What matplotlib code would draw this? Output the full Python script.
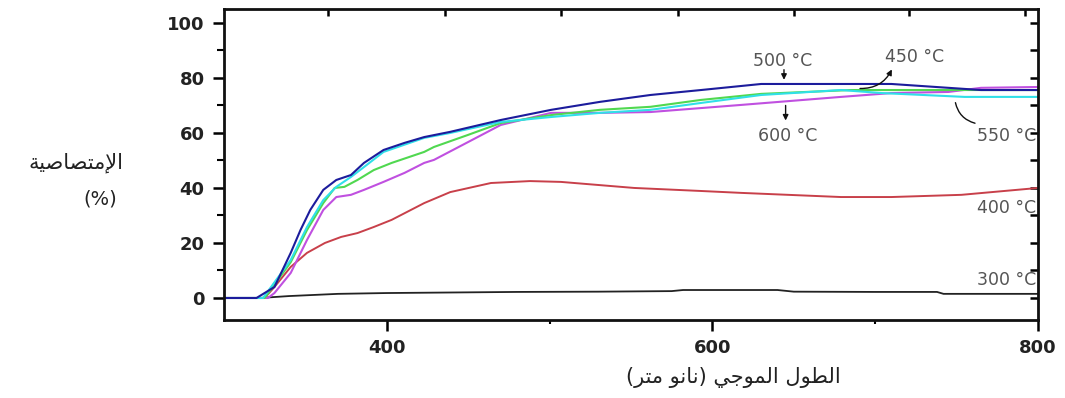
import matplotlib
matplotlib.use('Agg')
import matplotlib.pyplot as plt
from matplotlib.ticker import FixedLocator, MultipleLocator

# ---- data (wavelength nm, absorbance %) ----
wl_300 = [300, 322, 340, 370, 400, 440, 480, 530, 575, 582, 640, 650, 700, 738, 742, 800]
ab_300 = [0.0, 0.0, 0.7, 1.5, 1.8, 2.0, 2.2, 2.3, 2.5, 2.9, 2.9, 2.3, 2.2, 2.2, 1.5, 1.5]

wl_400 = [300, 325, 331, 341, 351, 362, 372, 382, 392, 403, 423, 439, 464, 488, 507, 552, 593, 618, 679, 710, 753, 800]
ab_400 = [0.0, 0.0, 4.0, 11.3, 16.4, 20.0, 22.2, 23.6, 25.8, 28.4, 34.5, 38.5, 41.8, 42.5, 42.2, 40.0, 38.9, 38.2, 36.7, 36.7, 37.5, 40.0]

wl_450 = [300, 325, 341, 351, 361, 368, 374, 382, 392, 403, 423, 429, 450, 470, 501, 531, 562, 593, 630, 685, 704, 800]
ab_450 = [0.0, 0.0, 13.0, 24.7, 34.5, 40.0, 40.4, 42.9, 46.5, 49.1, 53.1, 54.9, 59.3, 63.6, 66.5, 68.4, 69.5, 72.0, 74.2, 75.6, 75.6, 75.6]

wl_500 = [300, 320, 331, 341, 347, 353, 361, 369, 378, 386, 398, 411, 423, 439, 470, 501, 531, 562, 593, 630, 710, 765, 800]
ab_500 = [0.0, 0.0, 4.0, 16.4, 24.7, 32.0, 39.3, 42.9, 44.7, 49.1, 53.8, 56.4, 58.5, 60.4, 64.7, 68.4, 71.3, 73.8, 75.6, 77.8, 77.8, 75.6, 75.6]

wl_550 = [300, 324, 341, 351, 361, 369, 378, 386, 398, 423, 439, 470, 501, 531, 562, 593, 630, 679, 704, 755, 800]
ab_550 = [0.0, 0.0, 13.8, 25.8, 35.6, 40.4, 44.0, 47.6, 53.1, 58.2, 60.0, 64.0, 65.8, 67.3, 68.4, 70.9, 73.8, 75.6, 74.5, 73.1, 73.1]

wl_600 = [300, 327, 331, 341, 351, 361, 369, 378, 386, 398, 411, 423, 429, 450, 470, 501, 531, 562, 618, 679, 710, 745, 765, 800]
ab_600 = [0.0, 0.0, 1.8, 9.1, 21.1, 32.0, 36.7, 37.5, 39.3, 42.2, 45.5, 49.1, 50.2, 56.7, 62.9, 67.3, 67.3, 67.6, 70.2, 73.1, 74.5, 74.9, 76.4, 76.7]

x_ticks = [400, 600, 800]
x_minor = [500, 700]
y_ticks = [0, 20, 40, 60, 80, 100]
top_ticks = [364, 436, 507, 579, 650, 721, 792]

ylabel_ar = 'الإمتصاصية'
xlabel_ar = 'الطول الموجي (نانو متر)'

# Arabic letters -> (isolated, final, initial, medial) presentation forms
FORMS = {
    'ا': ('\uFE8D', '\uFE8E', None, None),
    'إ': ('\uFE87', '\uFE88', None, None),
    'ل': ('\uFEDD', '\uFEDE', '\uFEDF', '\uFEE0'),
    'م': ('\uFEE1', '\uFEE2', '\uFEE3', '\uFEE4'),
    'ت': ('\uFE95', '\uFE96', '\uFE97', '\uFE98'),
    'ص': ('\uFEB9', '\uFEBA', '\uFEBB', '\uFEBC'),
    'ي': ('\uFEF1', '\uFEF2', '\uFEF3', '\uFEF4'),
    'ة': ('\uFE93', '\uFE94', None, None),
    'ط': ('\uFEC1', '\uFEC2', '\uFEC3', '\uFEC4'),
    'و': ('\uFEED', '\uFEEE', None, None),
    'ج': ('\uFE9D', '\uFE9E', '\uFE9F', '\uFEA0'),
    'ن': ('\uFEE5', '\uFEE6', '\uFEE7', '\uFEE8'),
    'ر': ('\uFEAD', '\uFEAE', None, None),
}
LAM_ALEF = {'ا': ('\uFEFB', '\uFEFC'), 'إ': ('\uFEF9', '\uFEFA')}


def dual(c):
    return c in FORMS and FORMS[c][2] is not None


def shape(s):
    # crude arabic shaping + reversal, matplotlib has no bidi support
    out = []
    i = 0
    n = len(s)
    while i < n:
        c = s[i]
        if c not in FORMS:
            out.append(c)
            i += 1
            continue
        join_prev = i > 0 and dual(s[i - 1])
        if c == 'ل' and i + 1 < n and s[i + 1] in LAM_ALEF:
            lig = LAM_ALEF[s[i + 1]]
            out.append(lig[1] if join_prev else lig[0])
            i += 2
            continue
        join_next = dual(c) and i + 1 < n and s[i + 1] in FORMS
        iso, fin, ini, med = FORMS[c]
        if join_prev and join_next:
            out.append(med)
        elif join_prev:
            out.append(fin)
        elif join_next:
            out.append(ini)
        else:
            out.append(iso)
        i += 1
    vis = ''.join(out)[::-1]
    return vis.translate(str.maketrans('()', ')('))


plt.rcParams['font.family'] = ['DejaVu Sans']

fig = plt.figure(figsize=(10.65, 3.98), dpi=100)
ax = fig.add_axes([0.2103, 0.196, 0.7643, 0.781])

ax.plot(wl_300, ab_300, color='#222222', lw=1.3)
ax.plot(wl_400, ab_400, color='#c8404a', lw=1.4)
ax.plot(wl_600, ab_600, color='#c050e0', lw=1.5)
ax.plot(wl_450, ab_450, color='#50d850', lw=1.5)
ax.plot(wl_550, ab_550, color='#30e0e8', lw=1.5)
ax.plot(wl_500, ab_500, color='#1c1c9c', lw=1.5)

ax.set_xlim(300, 800)
ax.set_ylim(-8, 105)

for s in ax.spines.values():
    s.set_linewidth(2)
    s.set_color('#111111')

ax.xaxis.set_major_locator(FixedLocator(x_ticks))
ax.xaxis.set_minor_locator(FixedLocator(x_minor))
ax.yaxis.set_major_locator(FixedLocator(y_ticks))
ax.yaxis.set_minor_locator(MultipleLocator(10))
ax.tick_params(axis='both', which='major', direction='out', length=8, width=1.8,
               labelsize=13, pad=6, top=False, right=False)
ax.tick_params(axis='both', which='minor', direction='out', length=5, width=1.5,
               top=False, right=False)
ax.tick_params(axis='x', which='minor', length=3)
for lab in ax.get_xticklabels() + ax.get_yticklabels():
    lab.set_fontweight('bold')
    lab.set_color('#222222')

sec_top = ax.secondary_xaxis('top')
sec_top.set_xticks(top_ticks)
sec_top.set_xticklabels([])
sec_top.tick_params(direction='in', length=5, width=1.8)

sec_right = ax.secondary_yaxis('right')
sec_right.set_yticks(y_ticks)
sec_right.set_yticklabels([])
sec_right.yaxis.set_minor_locator(MultipleLocator(10))
sec_right.tick_params(which='both', direction='in', length=6, width=1.8)

txt = dict(color='#555555', fontsize=12.5)
arw = dict(arrowstyle='-|>', color='#111111', lw=1, mutation_scale=8)

ax.text(643, 86.0, '500 °C', ha='center', va='center', **txt)
ax.annotate('', xy=(644, 78.3), xytext=(644, 84.0), arrowprops=arw)

ax.text(724, 87.6, '450 °C', ha='center', va='center', **txt)
ax.annotate('', xy=(711, 84.0), xytext=(689, 76.2),
            arrowprops=dict(arw, connectionstyle='arc3,rad=0.35'))

ax.text(646, 58.8, '600 °C', ha='center', va='center', **txt)
ax.annotate('', xy=(645, 63.5), xytext=(645, 71.0), arrowprops=arw)

ax.text(799, 58.8, '550 °C', ha='right', va='center', **txt)
ax.annotate('', xy=(763, 63.3), xytext=(749, 72.0),
            arrowprops=dict(arrowstyle='-', color='#111111', lw=1,
                            connectionstyle='arc3,rad=0.35'))

ax.text(799, 32.7, '400 °C', ha='right', va='center', **txt)
ax.text(799, 6.5, '300 °C', ha='right', va='center', **txt)

fig.text(123 / 1065, 1 - 163 / 398, shape(ylabel_ar), ha='right', va='center',
         fontsize=15, color='#222222')
fig.text(100 / 1065, 1 - 199 / 398, '(%)', ha='center', va='center',
         fontsize=14, color='#222222')
fig.text(733 / 1065, 1 - 378 / 398, shape(xlabel_ar), ha='center', va='center',
         fontsize=15, color='#222222')

fig.savefig('out.png', dpi=100, facecolor='white')
